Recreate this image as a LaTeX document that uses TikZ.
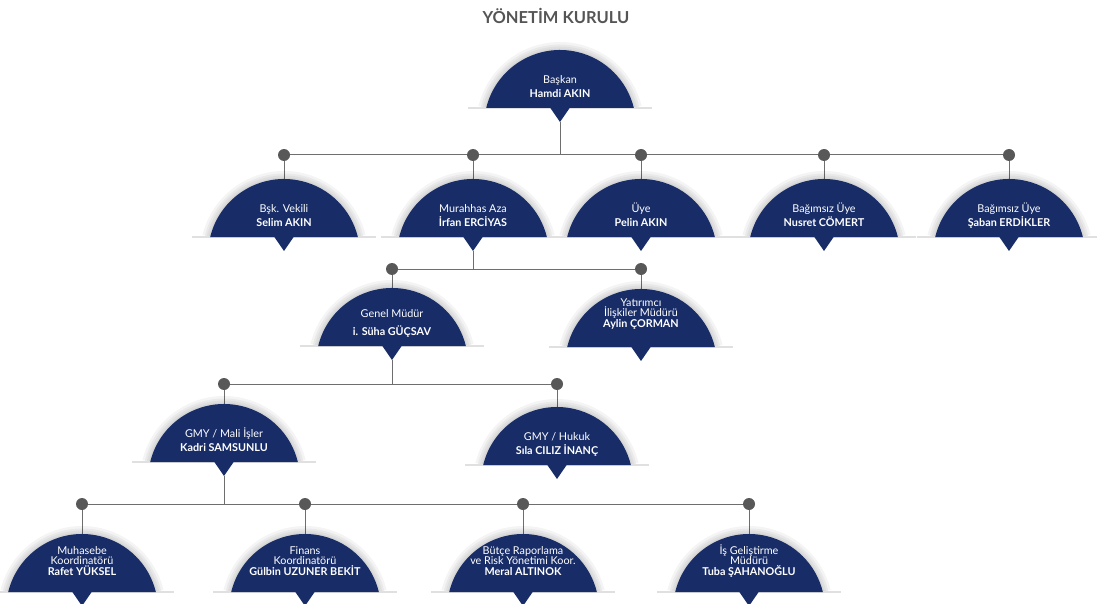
\documentclass[tikz,border=0pt]{standalone}
\usepackage{fontspec}
\setmainfont{Lato}
\usetikzlibrary{backgrounds}
\definecolor{navy}{RGB}{24,45,104}
\definecolor{wire}{RGB}{110,110,110}
\definecolor{knob}{RGB}{88,88,88}
\definecolor{titlegray}{RGB}{85,85,85}

% name, x, base y, lift of last baseline, leading, text
\newcommand\orgdome[6]{%
  \begin{scope}
    \clip (#2-100,#3) rectangle (#2+100,#3-95);
    \foreach \w in {16,11,7,3}
      \draw[draw=black, opacity=.045, line width=\w pt]
        (#2-73.8,#3) arc[start angle=166.3, end angle=13.7, radius=76pt];
  \end{scope}
  \draw[rim] (#2-92,#3) -- (#2+92,#3);
  \fill[navy] (#2-73.8,#3) arc[start angle=166.3, end angle=13.7, radius=76pt] -- cycle;
  \fill[navy] (#2-10,#3-.5) -- (#2,#3+14) -- (#2+10,#3-.5) -- cycle;
  \coordinate (#1-top) at (#2,#3-58);
  \coordinate (#1-tip) at (#2,#3+14);
  \node[domelabel, font=\fontsize{10.8pt}{#5pt}\selectfont] (#1) at (#2,#3-#4) {#6};
}

\begin{document}
\begin{tikzpicture}[
  x=1pt, y=-1pt,
  domelabel/.style={anchor=south, align=center, text=white, inner sep=0pt,
                    text depth=0pt},
  rim/.style={draw=black!12, line width=1.2pt},
  wire/.style={draw=wire, line width=1pt},
  knob/.style={circle, fill=knob, inner sep=0pt, minimum size=12pt},
  title/.style={font=\fontsize{16.5pt}{18pt}\selectfont\bfseries, text=titlegray},
]
\useasboundingbox (0,0) rectangle (1097,604);

\node[title] (title) at (556,16) {YÖNETİM KURULU};

% board
\orgdome{baskan}{560}{108}{10.5}{14}{Başkan\\\textbf{Hamdi AKIN}}
\orgdome{vekil}{284}{237}{10.5}{13.5}{Bşk. Vekili\\\textbf{Selim AKIN}}
\orgdome{murahhas}{473}{237}{10.5}{13.5}{Murahhas Aza\\\textbf{İrfan ERCİYAS}}
\orgdome{uye}{641}{237}{10.5}{13.5}{Üye\\\textbf{Pelin AKIN}}
\orgdome{comert}{824}{237}{10.5}{13.5}{Bağımsız Üye\\\textbf{Nusret CÖMERT}}
\orgdome{erdikler}{1009}{237}{10.5}{13.5}{Bağımsız Üye\\\textbf{Şaban ERDİKLER}}

% management
\orgdome{genel}{392}{346}{10.5}{18}{Genel Müdür\\\textbf{i. Süha GÜÇSAV}}
\orgdome{yatirimci}{641}{347}{19.5}{10.5}{Yatırımcı\\İlişkiler Müdürü\\\textbf{Aylin ÇORMAN}}
\orgdome{mali}{224}{462}{10.5}{14}{GMY / Mali İşler\\\textbf{Kadri SAMSUNLU}}
\orgdome{hukuk}{557}{465}{10.5}{14}{GMY / Hukuk\\\textbf{Sıla CILIZ İNANÇ}}

% coordinators
\orgdome{muhasebe}{82}{592}{16.5}{10.5}{Muhasebe\\Koordinatörü\\\textbf{Rafet YÜKSEL}}
\orgdome{finans}{305}{592}{16.5}{10.5}{Finans\\Koordinatörü\\\textbf{Gülbin UZUNER BEKİT}}
\orgdome{butce}{523}{592}{16.5}{10.5}{Bütçe Raporlama\\ve Risk Yönetimi Koor.\\\textbf{Meral ALTINOK}}
\orgdome{isgel}{749}{592}{16.5}{10.5}{İş Geliştirme\\Müdürü\\\textbf{Tuba ŞAHANOĞLU}}

\foreach \n/\x in {vekil/284, murahhas/473, uye/641, comert/824, erdikler/1009}
  \node[knob] (k-\n) at (\x,155) {};
\foreach \n/\x in {genel/392, yatirimci/641}
  \node[knob] (k-\n) at (\x,269) {};
\foreach \n/\x in {mali/224, hukuk/557}
  \node[knob] (k-\n) at (\x,384) {};
\foreach \n/\x in {muhasebe/82, finans/305, butce/523, isgel/749}
  \node[knob] (k-\n) at (\x,504) {};

\begin{scope}[on background layer]
  \draw[wire] (baskan-tip) -- (baskan-tip |- k-vekil);
  \draw[wire] (k-vekil.center) -- (k-erdikler.center);
  \draw[wire] (murahhas-tip) -- (murahhas-tip |- k-genel);
  \draw[wire] (k-genel.center) -- (k-yatirimci.center);
  \draw[wire] (genel-tip) -- (genel-tip |- k-mali);
  \draw[wire] (k-mali.center) -- (k-hukuk.center);
  \draw[wire] (mali-tip) -- (mali-tip |- k-muhasebe);
  \draw[wire] (k-muhasebe.center) -- (k-isgel.center);
  \foreach \n in {vekil, murahhas, uye, comert, erdikler, genel, yatirimci,
                  mali, hukuk, muhasebe, finans, butce, isgel}
    \draw[wire] (k-\n.center) -- (\n-top);
\end{scope}
\end{tikzpicture}
\end{document}
